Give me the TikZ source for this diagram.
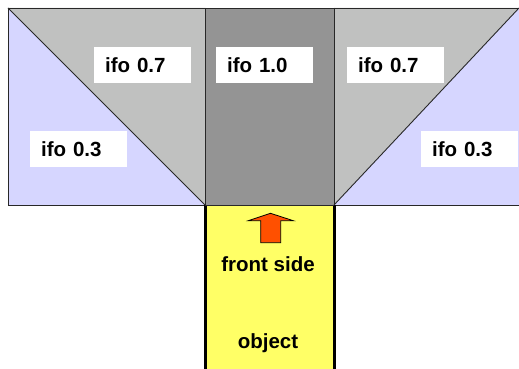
\documentclass[tikz,border=0pt]{standalone}
\usepackage{fontspec}
\setmainfont{Liberation Sans}
\definecolor{lav}{RGB}{214,214,255}
\definecolor{lgray}{RGB}{192,193,192}
\definecolor{dgray}{RGB}{148,148,148}
\definecolor{objyellow}{RGB}{255,255,102}
\definecolor{arrowred}{RGB}{255,80,0}
\definecolor{edge}{RGB}{40,40,40}
\tikzset{
  panel/.style={draw=edge, line width=0.9pt, line join=miter},
  lbl/.style={fill=white, draw=none, rectangle, minimum width=97pt, minimum height=36pt,
    text width=75pt, align=left, inner xsep=11pt, inner ysep=0pt,
    font=\fontsize{20.5}{23}\selectfont\bfseries, anchor=north west},
  objtxt/.style={font=\fontsize{20.5}{23}\selectfont\bfseries, inner sep=0pt},
}
\begin{document}
\begin{tikzpicture}[x=1pt,y=-1pt]
\useasboundingbox (0,0) rectangle (519,369);
\fill[white] (0,0) rectangle (519,369);
% corner coordinates
\coordinate (tl) at (8,8);
\coordinate (bl) at (8,205);
\coordinate (cl) at (205,8);
\coordinate (clb) at (205,205);
\coordinate (cr) at (334,8);
\coordinate (crb) at (334,205);
\coordinate (tr) at (519,8);
\coordinate (br) at (519,205);
% left panel
\fill[lgray] (tl) -- (cl) -- (clb) -- cycle;
\fill[lav] (tl) -- (bl) -- (clb) -- cycle;
% centre panel
\fill[dgray] (cl) rectangle (crb);
% right panel
\fill[lgray] (cr) -- (tr) -- (crb) -- cycle;
\fill[lav] (tr) -- (br) -- (crb) -- cycle;
% outlines
\draw[panel] (br) -- (bl) -- (tl) -- (tr);
\draw[panel] (tl) -- (clb);
\draw[panel] (tr) -- (crb);
\draw[panel] (cl) -- (clb);
\draw[panel] (cr) -- (crb);
% object
\fill[objyellow] (205,205.5) rectangle (334,372);
\draw[line width=3pt, black] (clb) -- (205,372);
\draw[line width=3pt, black] (crb) -- (334,372);
\draw[panel] (clb) -- (crb);
% labels
\node[lbl] (l07) at (94,47) {ifo 0.7};
\node[lbl] (c10) at (216,47) {ifo 1.0};
\node[lbl] (r07) at (347,47) {ifo 0.7};
\node[lbl] (l03) at (30,131) {ifo 0.3};
\node[lbl] (r03) at (421,131) {ifo 0.3};
% arrow
\draw[fill=arrowred, draw=black, line width=0.8pt, line join=miter]
  (260.7,242.7) -- (260.7,220.7) -- (248.3,220.7) -- (270.5,213.3) -- (293.3,220.7)
  -- (280.7,220.7) -- (280.7,242.7) -- cycle;
\node[objtxt, anchor=base] (front) at (268,271.7) {front side};
\node[objtxt, anchor=base] (obj) at (268,348) {object};
\end{tikzpicture}
\end{document}
